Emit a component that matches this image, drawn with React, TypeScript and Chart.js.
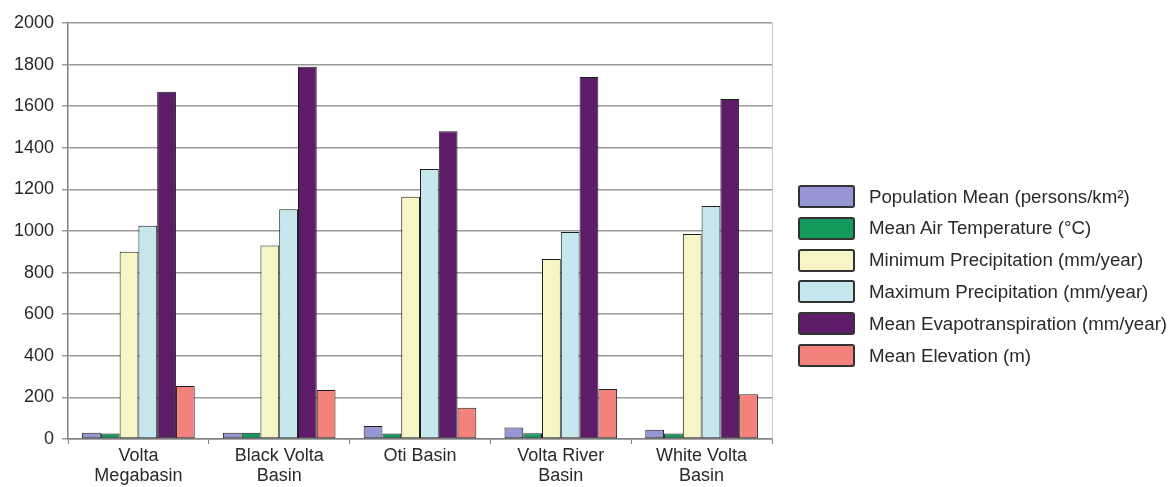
import React, { useEffect, useRef } from "react";
import { Chart, registerables } from "chart.js";

Chart.register(...registerables);

const categories: string[][] = [
  ["Volta", "Megabasin"],
  ["Black Volta", "Basin"],
  ["Oti Basin"],
  ["Volta River", "Basin"],
  ["White Volta", "Basin"],
];

const seriesNames: string[] = [
  "Population Mean (persons/km²)",
  "Mean Air Temperature (°C)",
  "Minimum Precipitation (mm/year)",
  "Maximum Precipitation (mm/year)",
  "Mean Evapotranspiration (mm/year)",
  "Mean Elevation (m)",
];

const populationMean = [30, 30, 62, 55, 45];
const meanAirTemp = [27, 30, 27, 28, 27];
const minPrecip = [900, 930, 1165, 865, 985];
const maxPrecip = [1025, 1105, 1298, 995, 1120];
const meanEvapo = [1670, 1790, 1480, 1740, 1635];
const meanElevation = [255, 235, 150, 240, 215];

const seriesValues = [populationMean, meanAirTemp, minPrecip, maxPrecip, meanEvapo, meanElevation];
const seriesColors = ["#9696d4", "#149a5c", "#f7f5c6", "#c6e7ee", "#5c1c68", "#f4827c"];

const yMin = 0;
const yMax = 2000;
const yStep = 200;

const FONT = "'Liberation Sans', Arial, sans-serif";

const framePlugin = {
  id: "frame",
  beforeDatasetsDraw(chart: any) {
    const { ctx, chartArea } = chart;
    ctx.save();
    ctx.strokeStyle = "#c8c8c8";
    ctx.lineWidth = 1;
    ctx.beginPath();
    ctx.moveTo(chartArea.right + 0.5, chartArea.top);
    ctx.lineTo(chartArea.right + 0.5, chartArea.bottom);
    ctx.stroke();
    ctx.restore();
  },
};

export default function App() {
  const ref = useRef<HTMLCanvasElement | null>(null);

  useEffect(() => {
    if (!ref.current) return;
    const chart = new Chart(ref.current, {
      type: "bar",
      data: {
        labels: categories,
        datasets: seriesNames.map((name, i) => ({
          label: name,
          data: seriesValues[i],
          backgroundColor: seriesColors[i],
          borderColor: "#1e1e1e",
          borderWidth: 1,
          borderSkipped: false,
          categoryPercentage: 0.8,
          barPercentage: 1.0,
        })),
      },
      options: {
        animation: false,
        responsive: false,
        layout: { padding: { top: 23, right: 398, left: 0, bottom: 0 } },
        plugins: {
          legend: { display: false },
          tooltip: { enabled: false },
        },
        scales: {
          x: {
            grid: {
              display: true,
              drawOnChartArea: false,
              drawTicks: true,
              tickLength: 5,
              color: "#808080",
              lineWidth: 1,
            },
            border: { display: true, color: "#808080", width: 1.5 },
            ticks: {
              color: "#2a2a2a",
              font: { family: FONT, size: 18, lineHeight: 1.1 },
              padding: 2,
              maxRotation: 0,
              autoSkip: false,
            },
            afterFit(scale: any) {
              scale.height = 48;
            },
          },
          y: {
            min: yMin,
            max: yMax,
            ticks: {
              stepSize: yStep,
              color: "#2a2a2a",
              font: { family: FONT, size: 18 },
              padding: 8,
              callback: (v: any) => String(v),
            },
            grid: {
              color: "#9a9a9a",
              lineWidth: 1.5,
              tickLength: 6,
            },
            border: { display: true, color: "#808080", width: 1.5 },
            afterFit(scale: any) {
              scale.width = 68;
            },
          },
        },
      },
      plugins: [framePlugin],
    });
    return () => chart.destroy();
  }, []);

  return (
    <div style={{ position: "absolute", left: 0, top: 0, width: 1170, height: 487, background: "#fff" }}>
      <canvas ref={ref} width={1170} height={487} style={{ position: "absolute", left: 0, top: 0 }} />
      {seriesNames.map((name, i) => (
        <div
          key={name}
          style={{
            position: "absolute",
            left: 798,
            top: 185 + i * 31.8,
            height: 23,
            display: "flex",
            alignItems: "center",
            whiteSpace: "nowrap",
          }}
        >
          <div
            style={{
              width: 53,
              height: 19,
              background: seriesColors[i],
              border: "2px solid #333",
              borderRadius: 3,
              marginRight: 14,
            }}
          />
          <span style={{ fontFamily: FONT, fontSize: 18.7, color: "#2a2a2a" }}>{name}</span>
        </div>
      ))}
    </div>
  );
}
